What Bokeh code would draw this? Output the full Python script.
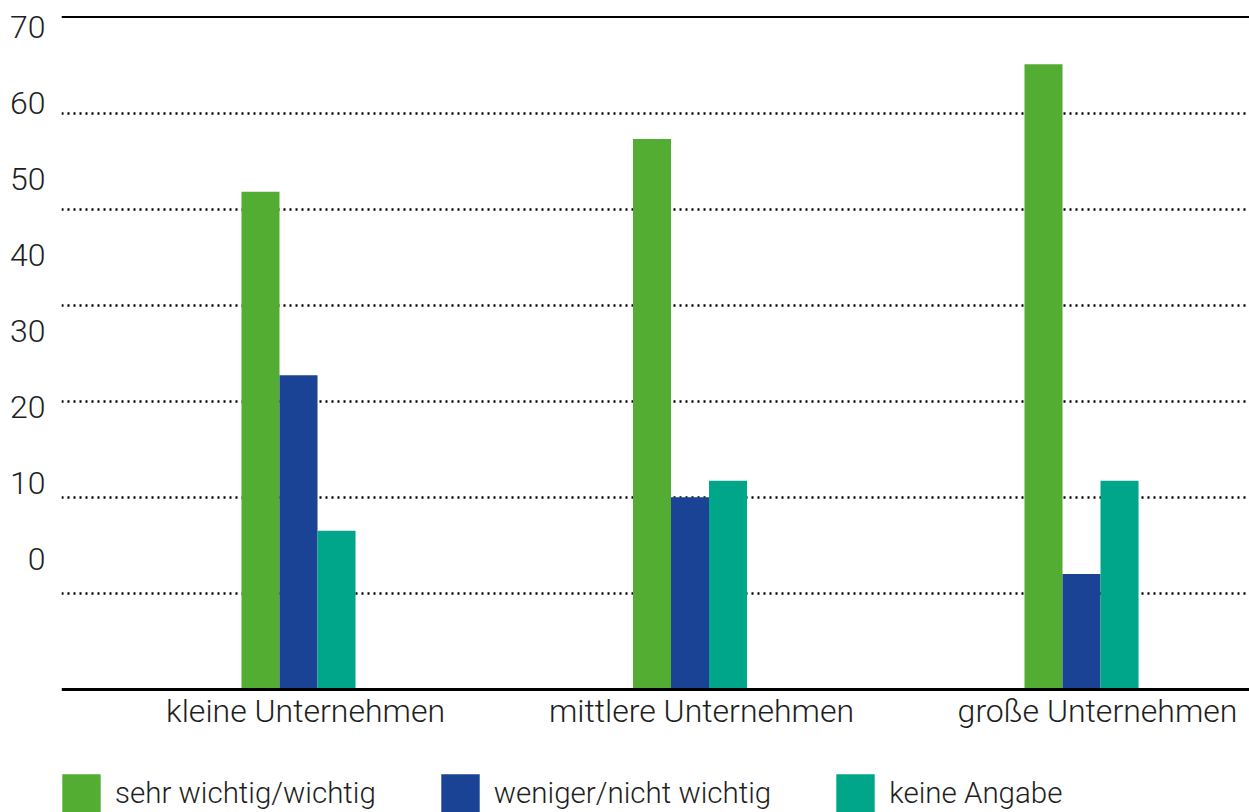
from bokeh.plotting import figure
from bokeh.models import (ColumnDataSource, Range1d, LinearAxis, FixedTicker,
                          Span, Legend, LegendItem)
from bokeh.transform import dodge
from bokeh.embed import file_html
from bokeh.resources import INLINE

# ---- data ----
categories = ["kleine Unternehmen", "mittlere Unternehmen", "große Unternehmen"]
series_names = ["sehr wichtig/wichtig", "weniger/nicht wichtig", "keine Angabe"]
sehr_wichtig = [51.8, 57.3, 65.1]
weniger_wichtig = [32.7, 20.0, 12.0]
keine_angabe = [16.5, 21.7, 21.7]
y_tick_values = [0, 10, 20, 30, 40, 50, 60, 70]
grid_values = [10, 20, 30, 40, 50, 60]
top_line_value = 70

colors = ["#53ad33", "#1a4396", "#00a68a"]
FONT = "Roboto Light, Roboto"
TEXT = "#1e1e1e"

src = ColumnDataSource(dict(
    idx=list(range(len(categories))),
    cat=categories,
    s1=sehr_wichtig, s2=weniger_wichtig, s3=keine_angabe,
))

p = figure(width=1249, height=812, output_backend="svg", toolbar_location=None,
           x_range=Range1d(-0.6054, 2.4291), y_range=Range1d(-12.84, 71),
           x_axis_location=None, y_axis_location=None,
           min_border_left=61, min_border_right=0, min_border_top=7, min_border_bottom=0)
p.outline_line_color = None
p.background_fill_color = "white"
p.border_fill_color = "white"

# label ranges (tick labels in the original sit at their own spacing)
p.extra_y_ranges = {"lab": Range1d(-33.42, 72.5)}
p.extra_x_ranges = {"lab": Range1d(-0.6162, 2.3838)}

bw = 0.0971
r1 = p.vbar(x=dodge("idx", -bw, range=p.x_range), top="s1", bottom=0, width=bw, source=src,
            fill_color=colors[0], line_color=None)
r2 = p.vbar(x=dodge("idx", 0.0, range=p.x_range), top="s2", bottom=0, width=bw, source=src,
            fill_color=colors[1], line_color=None)
r3 = p.vbar(x=dodge("idx", bw, range=p.x_range), top="s3", bottom=0, width=bw, source=src,
            fill_color=colors[2], line_color=None)

# grid
p.xgrid.visible = False
p.ygrid.ticker = FixedTicker(ticks=grid_values)
p.ygrid.grid_line_color = "black"
p.ygrid.grid_line_width = 2.3
p.ygrid.grid_line_dash = "2 4"

p.add_layout(Span(location=top_line_value, dimension="width", line_color="black", line_width=2))

# y axis (labels)
yax = LinearAxis(y_range_name="lab", ticker=FixedTicker(ticks=y_tick_values))
yax.axis_line_color = None
yax.major_tick_line_color = None
yax.minor_tick_line_color = None
yax.major_tick_out = 0
yax.major_tick_in = 0
yax.major_label_standoff = 16
yax.major_label_text_font = FONT
yax.major_label_text_font_size = "32px"
yax.major_label_text_color = TEXT
p.add_layout(yax, "left")

# x axis (categories), fixed at the zero baseline
xax = LinearAxis(x_range_name="lab", ticker=FixedTicker(ticks=list(range(len(categories)))),
                 fixed_location=0)
xax.major_label_overrides = {i: c for i, c in enumerate(categories)}
xax.axis_line_color = "black"
xax.axis_line_width = 3
xax.major_tick_line_color = None
xax.minor_tick_line_color = None
xax.major_tick_out = 0
xax.major_tick_in = 0
xax.major_label_standoff = 3
xax.major_label_text_font = FONT
xax.major_label_text_font_size = "32px"
xax.major_label_text_color = TEXT
p.add_layout(xax, "below")

legend = Legend(items=[LegendItem(label=series_names[0], renderers=[r1]),
                       LegendItem(label=series_names[1], renderers=[r2]),
                       LegendItem(label=series_names[2], renderers=[r3])],
                orientation="horizontal", location=(-4, -4.8))
legend.glyph_width = 48
legend.glyph_height = 48
legend.label_standoff = 10
legend.spacing = 60
legend.padding = 0
legend.margin = 0
legend.border_line_color = None
legend.background_fill_alpha = 0
legend.label_text_font = FONT
legend.label_text_font_size = "29.5px"
legend.label_text_color = TEXT
p.add_layout(legend, "center")

open("out.html", "w").write(file_html(p, INLINE))
